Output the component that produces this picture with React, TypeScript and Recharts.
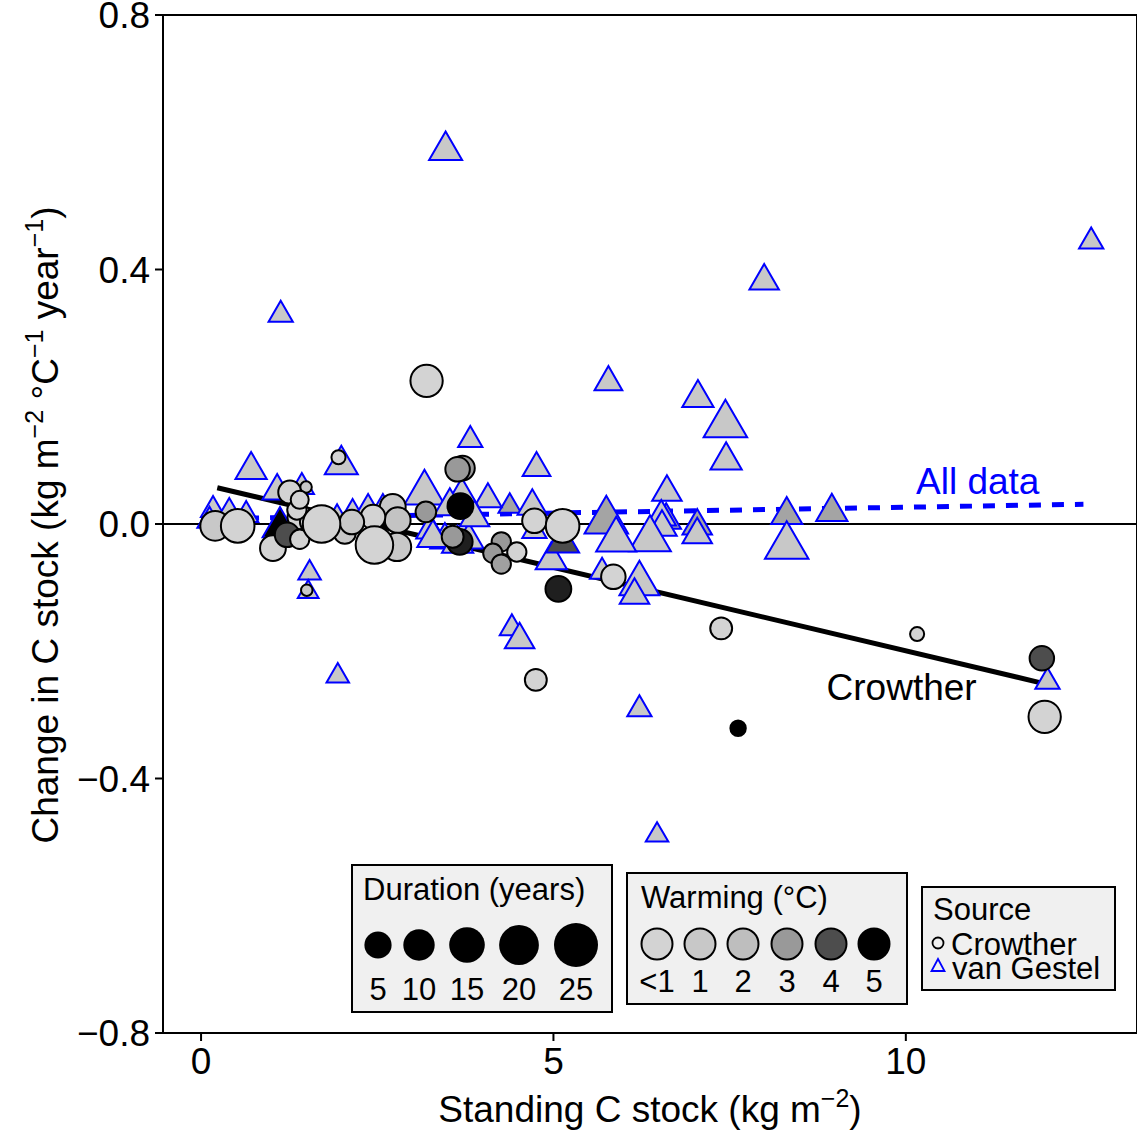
import React from 'react';
import { ScatterChart, Scatter, XAxis, YAxis, ReferenceArea, ReferenceDot } from 'recharts';

const FONT = '"Liberation Sans", Arial, Helvetica, sans-serif';

// Crowther sites: standing C stock (kg m-2), change in C stock, duration (years), warming (°C)
const crowtherStock = [
  3.2, 1.95, 3.71, 3.64, 3.68, 3.67, 3.57, 3.19, 2.72, 2.79, 2.44, 2.78, 2.04, 2.14,
  0.2, 0.52, 1.02, 1.26, 1.49, 1.4, 1.22, 1.4, 1.54, 1.36, 1.4, 1.71, 2.46,
  4.73, 5.13, 4.26, 4.14, 4.48, 4.26, 5.07, 5.85, 7.38, 10.16, 11.93, 11.97, 7.62, 4.75, 1.5,
];
const crowtherChange = [
  0.225, 0.105, 0.088, 0.086, 0.028, -0.028, -0.02, 0.019, 0.027, 0.006, 0.011, -0.036, -0.014, 0.003,
  -0.003, -0.003, -0.038, 0.05, 0.058, 0.011, -0.017, -0.024, 0.003, 0.022, 0.038, 0.0, -0.033,
  0.005, -0.003, -0.028, -0.046, -0.044, -0.063, -0.102, -0.083, -0.164, -0.173, -0.211, -0.303, -0.321, -0.245, -0.104,
];
const crowtherDuration = [
  21, 7, 15, 15, 16, 16, 13, 12, 16, 16, 15, 18, 13, 15,
  19, 22, 16, 14, 5, 15, 15, 11, 11, 11, 10, 25, 25,
  15, 22, 11, 11, 11, 11, 16, 15, 13, 7, 15, 21, 8, 13, 5,
];
const crowtherWarming = [
  0.5, 0.5, 3, 3, 5, 4.6, 3, 3, 1, 1.5, 0.5, 1, 1, 1,
  1, 0.5, 0.5, 0.5, 1, 0.5, 4, 0.5, 0.5, 0.5, 0.5, 0.5, 0.5,
  0.5, 0.5, 3, 3, 0.5, 2.8, 4.6, 0.5, 0.5, 0.5, 4, 0.5, 5, 0.5, 1,
];

// van Gestel sites
const gestelStock = [
  3.47, 1.13, 12.63, 7.99, 5.78, 7.05, 7.44, 7.45, 3.82, 1.99, 0.71, 4.76, 6.61, 3.17,
  5.75, 8.95, 8.31, 8.31, 6.6, 6.53, 6.54, 6.37, 7.04, 7.04, 5.89, 5.69, 6.22, 6.15,
  4.97, 5.13, 4.73, 4.38, 4.07, 4.7, 3.7, 1.54, 1.52, 1.94, 4.41, 4.52, 6.22, 6.47, 12.01,
  1.08, 1.43, 0.17, 0.4, 0.64, 1.12, 1.93, 2.15, 2.37, 2.58, 3.25, 3.46, 3.8, 3.88, 3.53,
  3.29, 3.64, 0.12,
];
const gestelChange = [
  0.587, 0.329, 0.444, 0.382, 0.223, 0.198, 0.156, 0.1, 0.132, 0.093, 0.085, 0.088, 0.05, 0.049,
  0.005, 0.019, 0.014, -0.035, 0.006, 0.011, -0.005, -0.024, -0.003, -0.017, -0.025, -0.075, -0.094, -0.112,
  -0.057, -0.03, -0.011, 0.028, 0.039, 0.028, 0.044, -0.077, -0.107, -0.239, -0.164, -0.182, -0.291, -0.489, -0.248,
  0.052, 0.058, 0.022, 0.019, 0.014, -0.005, 0.009, 0.014, 0.022, 0.025, -0.01, -0.025, -0.025, 0.01, 0.028,
  -0.022, -0.031, 0.005,
];
const gestelDuration = [
  15, 10, 10, 13, 12, 14, 21, 14, 10, 15, 14, 12, 13, 19,
  21, 14, 14, 21, 13, 13, 13, 20, 13, 13, 19, 10, 19, 13,
  14, 15, 10, 9, 12, 13, 14, 9, 8, 9, 10, 13, 10, 9, 10,
  13, 10, 10, 10, 10, 16, 10, 12, 12, 10, 12, 13, 13, 13, 14,
  14, 14, 10,
];
const gestelWarming = [
  1, 1, 1, 1, 1, 1, 1, 1, 1, 1, 1, 1, 1, 1,
  2.7, 2.7, 2.7, 1, 2.7, 1, 1, 1, 2.7, 1, 1, 1, 1, 1,
  1, 4, 1, 2.7, 1, 1, 1, 1, 1, 1, 1, 1, 1, 1, 1,
  1, 1, 1, 1, 1, 5, 1, 1, 1, 1, 1, 1, 1, 1, 1,
  1, 1, 1,
];

// Fitted lines (end points)
const crowtherFitX = [0.23, 11.93];
const crowtherFitY = [0.057, -0.25];
const allFitX = [0.0, 12.52];
const allFitY = [0.008, 0.031];
const zeroLineX = [-0.54, 13.28];

const xDomain: [number, number] = [-0.54, 13.28];
const yDomain: [number, number] = [-0.8, 0.8];
const xTicks = [0, 5, 10];
const yTicks = [-0.8, -0.4, 0, 0.4, 0.8];

const durationKeys = [5, 10, 15, 20, 25];
const warmingKeyLabels = ['<1', '1', '2', '3', '4', '5'];
const warmingKeyValues = [0.5, 1, 2, 3, 4, 5];

const crowtherData = crowtherStock.map((x, i) => ({
  x, y: crowtherChange[i], dur: crowtherDuration[i], warm: crowtherWarming[i],
}));
const gestelData = gestelStock.map((x, i) => ({
  x, y: gestelChange[i], dur: gestelDuration[i], warm: gestelWarming[i],
}));
const crowtherFit = crowtherFitX.map((x, i) => ({ x, y: crowtherFitY[i] }));
const allFit = allFitX.map((x, i) => ({ x, y: allFitY[i] }));
const zeroLine = zeroLineX.map((x) => ({ x, y: 0 }));

// grey level by amount of warming
const grayStops: [number, number][] = [[0.5, 211], [1, 200], [2, 190], [3, 153], [4, 77], [5, 0]];
function warmGray(w: number): string {
  let g = grayStops[0][1];
  if (w >= grayStops[grayStops.length - 1][0]) g = 0;
  else {
    for (let i = 0; i < grayStops.length - 1; i++) {
      const [w0, g0] = grayStops[i];
      const [w1, g1] = grayStops[i + 1];
      if (w >= w0 && w <= w1) {
        g = g0 + ((w - w0) / (w1 - w0)) * (g1 - g0);
        break;
      }
    }
  }
  const v = Math.round(g);
  return `rgb(${v},${v},${v})`;
}

const markRadius = (d: number) => 2.5 + 0.65 * d;
const keyRadius = (d: number) => 11.5 + 0.42 * d;

const CircleMark = (props: any) => {
  const { cx, cy, payload } = props;
  if (cx == null || cy == null) return <g />;
  return (
    <circle cx={cx} cy={cy} r={markRadius(payload.dur)} fill={warmGray(payload.warm)} stroke="#000" strokeWidth={2} />
  );
};

const TriangleMark = (props: any) => {
  const { cx, cy, payload } = props;
  if (cx == null || cy == null) return <g />;
  const r = markRadius(payload.dur);
  const pts = `${cx},${cy - 1.555 * r} ${cx + 1.347 * r},${cy + 0.778 * r} ${cx - 1.347 * r},${cy + 0.778 * r}`;
  return <polygon points={pts} fill={warmGray(payload.warm)} stroke="#0000ff" strokeWidth={2} />;
};

const NoMark = () => <g />;

const XTitle = () => (
  <text x={650} y={1122} textAnchor="middle" fontSize={37} fontFamily={FONT} fill="#000">
    Standing C stock (kg m
    <tspan dy={-15} fontSize={25}>−2</tspan>
    <tspan dy={15}>)</tspan>
  </text>
);

const YTitle = () => (
  <text transform="rotate(-90)" x={-525} y={58} textAnchor="middle" fontSize={37} fontFamily={FONT} fill="#000">
    Change in C stock (kg m
    <tspan dy={-15} fontSize={25}>−2</tspan>
    <tspan dy={15}> °C</tspan>
    <tspan dy={-15} fontSize={25}>−1</tspan>
    <tspan dy={15}> year</tspan>
    <tspan dy={-15} fontSize={25}>−1</tspan>
    <tspan dy={15}>)</tspan>
  </text>
);

const fmtY = (v: number) => (v === 0 ? '0.0' : (v < 0 ? '−' : '') + Math.abs(v).toFixed(1));

const durationKeyX = [378, 419, 467, 519, 576];
const warmingKeyX = [657, 700, 743, 787, 831, 874];

const Legends = () => (
  <svg width={1137} height={1132} style={{ position: 'absolute', left: 0, top: 0, pointerEvents: 'none' }}>
    <g fontFamily={FONT} fontSize={31} fill="#000">
      <rect x={352} y={865} width={260} height={147} fill="#f0f0f0" stroke="#000" strokeWidth={2} />
      <text x={363} y={900}>Duration (years)</text>
      {durationKeys.map((d, i) => (
        <g key={d}>
          <circle cx={durationKeyX[i]} cy={945} r={keyRadius(d)} fill="#000" />
          <text x={durationKeyX[i]} y={1000} textAnchor="middle">{d}</text>
        </g>
      ))}

      <rect x={627} y={873} width={280} height={131} fill="#f0f0f0" stroke="#000" strokeWidth={2} />
      <text x={641} y={908}>Warming (°C)</text>
      {warmingKeyValues.map((w, i) => (
        <g key={i}>
          <circle cx={warmingKeyX[i]} cy={944} r={15.5} fill={warmGray(w)} stroke="#000" strokeWidth={2} />
          <text x={warmingKeyX[i]} y={992} textAnchor="middle">{warmingKeyLabels[i]}</text>
        </g>
      ))}

      <rect x={922} y={887} width={193} height={103} fill="#f0f0f0" stroke="#000" strokeWidth={2} />
      <text x={933} y={920}>Source</text>
      <circle cx={938} cy={943} r={5.5} fill="none" stroke="#000" strokeWidth={1.8} />
      <text x={951} y={955}>Crowther</text>
      <polygon points="938,959 944.5,971 931.5,971" fill="none" stroke="#0000ff" strokeWidth={1.8} />
      <text x={952} y={979}>van Gestel</text>
    </g>
  </svg>
);

export default function App() {
  // pinned to the viewport corner so the figure fills the full page
  return (
    <div style={{ position: 'fixed', left: 0, top: 0, width: 1137, height: 1132, background: '#fff' }}>
      <ScatterChart width={1137} height={1132} margin={{ top: 15, right: 0, left: 63, bottom: 39 }}>
        <XAxis
          type="number"
          dataKey="x"
          domain={xDomain}
          allowDataOverflow
          ticks={xTicks}
          interval={0}
          axisLine={false}
          tickSize={8}
          tickMargin={7}
          tickLine={{ stroke: '#000', strokeWidth: 2 }}
          tick={{ fill: '#000', fontSize: 37, fontFamily: FONT }}
          height={60}
          label={<XTitle />}
        />
        <YAxis
          type="number"
          dataKey="y"
          domain={yDomain}
          allowDataOverflow
          ticks={yTicks}
          interval={0}
          axisLine={false}
          tickSize={8}
          tickMargin={5}
          tickLine={{ stroke: '#000', strokeWidth: 2 }}
          tick={{ fill: '#000', fontSize: 37, fontFamily: FONT }}
          tickFormatter={fmtY}
          width={100}
          label={<YTitle />}
        />
        <Scatter data={zeroLine} fill="#000" line={{ stroke: '#000', strokeWidth: 2 }} shape={NoMark} isAnimationActive={false} />
        <Scatter data={crowtherFit} fill="#000" line={{ stroke: '#000', strokeWidth: 5 }} shape={NoMark} isAnimationActive={false} />
        <Scatter
          data={allFit}
          fill="#0000ff"
          line={{ stroke: '#0000ff', strokeWidth: 5, strokeDasharray: '12 11' }}
          shape={NoMark}
          isAnimationActive={false}
        />
        <Scatter data={gestelData} shape={TriangleMark} isAnimationActive={false} />
        <Scatter data={crowtherData} shape={CircleMark} isAnimationActive={false} />
        <ReferenceDot
          x={11.02}
          y={0.068}
          r={0}
          fill="none"
          stroke="none"
          label={{ value: 'All data', position: 'center', fill: '#0000ff', fontSize: 37, fontFamily: FONT }}
        />
        <ReferenceDot
          x={9.94}
          y={-0.256}
          r={0}
          fill="none"
          stroke="none"
          label={{ value: 'Crowther', position: 'center', fill: '#000', fontSize: 37, fontFamily: FONT }}
        />
        <ReferenceArea
          x1={xDomain[0]}
          x2={xDomain[1]}
          y1={yDomain[0]}
          y2={yDomain[1]}
          fill="none"
          stroke="#000"
          strokeWidth={2}
          ifOverflow="visible"
        />
      </ScatterChart>
      <Legends />
    </div>
  );
}
